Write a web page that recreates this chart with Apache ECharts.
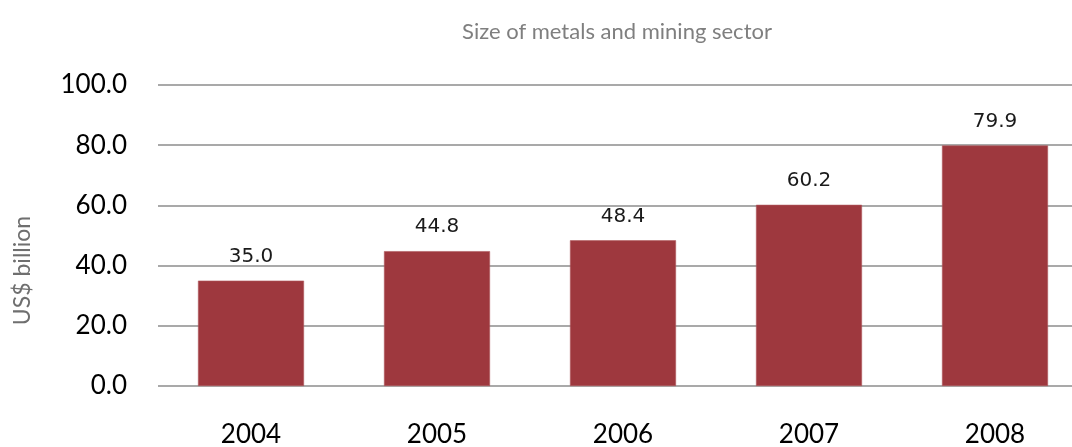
<!DOCTYPE html>
<html>
<head>
<meta charset="utf-8">
<script src="https://cdn.jsdelivr.net/npm/echarts@6/dist/echarts.min.js"></script>
<style>
  html, body { margin: 0; padding: 0; background: #fff; overflow: hidden; }
  #chart { width: 1072px; height: 447px; }
</style>
</head>
<body>
<div id="chart"></div>
<script>
// Metals and mining sector size by year
const years = ['2004', '2005', '2006', '2007', '2008'];
const sectorSize = [35.0, 44.8, 48.4, 60.2, 79.9];
const yTicks = { min: 0, max: 100, interval: 20 };

const chart = echarts.init(document.getElementById('chart'));
chart.setOption({
  animation: false,
  title: {
    text: 'Size of metals and mining sector',
    left: 612,
    top: 16,
    textAlign: 'center',
    textStyle: { fontFamily: 'Lato', fontSize: 22, fontWeight: 'normal', color: '#7f7f7f' }
  },
  // plot area runs past the right edge of the canvas
  grid: { left: 158, width: 930, top: 85, bottom: 61, outerBoundsMode: 'none', containLabel: false },
  xAxis: {
    type: 'category',
    data: years,
    axisLine: { show: false },
    axisTick: { show: false },
    axisLabel: { fontFamily: 'Lato', fontSize: 26, color: '#000', margin: 36 }
  },
  yAxis: {
    type: 'value',
    min: yTicks.min,
    max: yTicks.max,
    interval: yTicks.interval,
    name: 'US$ billion',
    nameLocation: 'middle',
    nameGap: 124,
    nameRotate: 90,
    nameTextStyle: { fontFamily: 'Lato', fontSize: 23, color: '#6f6f6f', padding: [0, 70, 0, 0] },
    axisLine: { show: false },
    axisTick: { show: false },
    axisLabel: {
      fontFamily: 'Lato', fontSize: 26, color: '#000', margin: 31,
      formatter: v => v.toFixed(1)
    },
    splitLine: { lineStyle: { color: '#8c8c8c', width: 1.5 } }
  },
  series: [{
    type: 'bar',
    data: sectorSize,
    barWidth: '57%',
    itemStyle: { color: '#9e383e', borderColor: '#b0595e', borderWidth: 0.6 },
    label: {
      show: true,
      position: 'top',
      distance: 14,
      fontFamily: 'DejaVu Sans',
      fontSize: 20,
      color: '#1a1a1a',
      formatter: p => p.value.toFixed(1)
    }
  }]
});
</script>
</body>
</html>
